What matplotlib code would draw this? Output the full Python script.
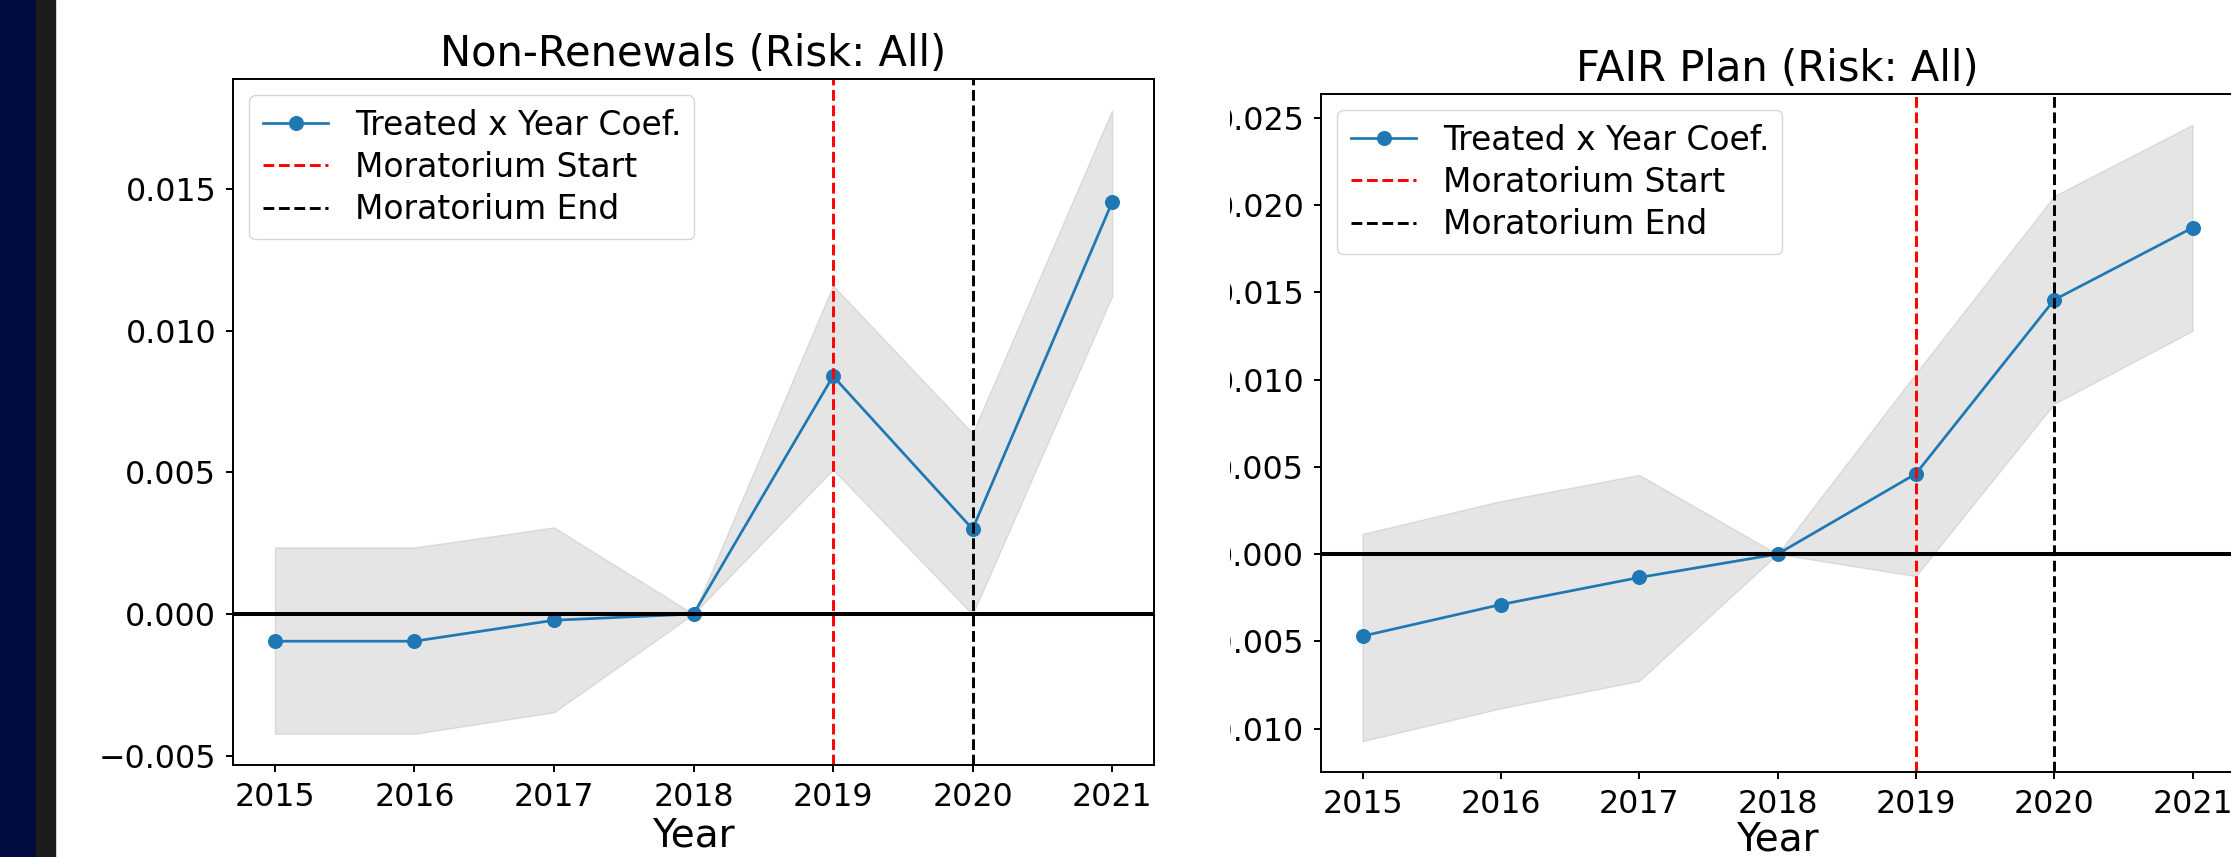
import matplotlib
matplotlib.use("Agg")
import matplotlib.pyplot as plt
from matplotlib.patches import Rectangle
from matplotlib.transforms import Bbox, TransformedBbox

years = [2015, 2016, 2017, 2018, 2019, 2020, 2021]
moratorium_start = 2019
moratorium_end = 2020

# non-renewals: coefficient and confidence band
nonrenew_coef = [-0.00096, -0.00096, -0.00022, 0.0, 0.0084, 0.00300, 0.01454]
nonrenew_lower = [-0.00423, -0.00423, -0.00347, 0.0, 0.0051, -0.00002, 0.01122]
nonrenew_upper = [0.00235, 0.00235, 0.00306, 0.0, 0.0116, 0.00639, 0.01779]

# FAIR plan: coefficient and confidence band
fair_coef = [-0.0047, -0.00289, -0.00134, 0.0, 0.0046, 0.01457, 0.0187]
fair_lower = [-0.01072, -0.00884, -0.00727, 0.0, -0.00126, 0.00861, 0.01279]
fair_upper = [0.00116, 0.00304, 0.00454, 0.0, 0.01035, 0.02052, 0.0246]

TICK_FS = 22.8
LEGEND_FS = 23.7
LABEL_FS = 28
TITLE_FS = 30


def event_plot(ax, coef, lower, upper, title, labelpad=3):
    ''' event-study plot of treated x year coefficients '''
    ax.fill_between(years, lower, upper, color='gray', alpha=0.2)
    ax.plot(years, coef, marker='o', linestyle='-', color='#1f77b4',
            linewidth=1.95, markersize=9.8, label='Treated x Year Coef.')
    ax.axvline(moratorium_start, color='red', linestyle='--', linewidth=2.1,
               label='Moratorium Start')
    ax.axvline(moratorium_end, color='black', linestyle='--', linewidth=2.1,
               label='Moratorium End')
    ax.axhline(0, color='black', linewidth=2.9)
    ax.set_title(title, fontsize=TITLE_FS, pad=9.5)
    ax.set_xlabel('Year', fontsize=LABEL_FS, labelpad=labelpad)
    ax.set_xticks(years)
    ax.tick_params(labelsize=TICK_FS, length=5, width=1.4, pad=7)
    for s in ax.spines.values():
        s.set_linewidth(1.4)
    ax.legend(loc='upper left', fontsize=LEGEND_FS, labelspacing=0.28)


fig = plt.figure(figsize=(22.31, 8.57), dpi=100)

# dark side band on the left edge
fig.patches.append(Rectangle((0, 0), 36 / 2231, 1, transform=fig.transFigure,
                             color='#000a3c', zorder=0))
fig.patches.append(Rectangle((36 / 2231, 0), 19 / 2231, 1,
                             transform=fig.transFigure, color='#1b1b1b',
                             zorder=0))

ax1 = fig.add_axes([233 / 2231, 92 / 857, 921 / 2231, 686 / 857])
event_plot(ax1, nonrenew_coef, nonrenew_lower, nonrenew_upper,
           'Non-Renewals (Risk: All)')

ax2 = fig.add_axes([1321 / 2231, 85 / 857, 913 / 2231, 678 / 857])
event_plot(ax2, fair_coef, fair_lower, fair_upper, 'FAIR Plan (Risk: All)',
           labelpad=0.5)
ax2.set_yticks([-0.010, -0.005, 0.0, 0.005, 0.010, 0.015, 0.020, 0.025])

# right panel's y labels are cut off on the left
clip = TransformedBbox(Bbox([[1230 / 2231, 0], [1, 1]]), fig.transFigure)
for lab in ax2.get_yticklabels():
    lab.set_clip_box(clip)
    lab.set_clip_on(True)

plt.savefig("out.png", dpi=100)
